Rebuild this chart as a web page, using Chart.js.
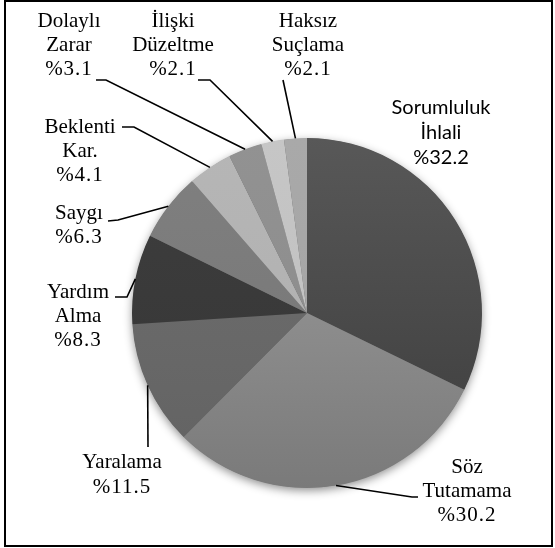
<!DOCTYPE html>
<html>
<head>
<meta charset="utf-8">
<script src="https://cdn.jsdelivr.net/npm/chart.js@4"></script>
<style>
  body { margin: 0; background: #fff; }
  #wrap { position: relative; width: 555px; height: 548px; }
</style>
</head>
<body>
<div id="wrap"><canvas id="pasta" width="555" height="548"></canvas></div>
<script>
// Veriler
const kategoriler = ['Sorumluluk İhlali', 'Söz Tutamama', 'Yaralama', 'Yardım Alma', 'Saygı',
                     'Beklenti Kar.', 'Dolaylı Zarar', 'İlişki Düzeltme', 'Haksız Suçlama'];
const yuzdeler = [32.2, 30.2, 11.5, 8.3, 6.3, 4.1, 3.1, 2.1, 2.1];
const etiketSatirlari = [
  ['Sorumluluk', 'İhlali'], ['Söz', 'Tutamama'], ['Yaralama'], ['Yardım', 'Alma'], ['Saygı'],
  ['Beklenti', 'Kar.'], ['Dolaylı', 'Zarar'], ['İlişki', 'Düzeltme'], ['Haksız', 'Suçlama']
];

// Renkler (üst, alt) - dilimlerde hafif dikey geçiş var
const renkUst = ['#585858', '#a0a0a0', '#707070', '#3e3e3e', '#808080', '#b6b6b6', '#929292', '#c6c6c6', '#a9a9a9'];
const renkAlt = ['#3c3c3c', '#7a7a7a', '#626262', '#353535', '#747474', '#aeaeae', '#8a8a8a', '#bebebe', '#a2a2a2'];

// Etiket yerleşimi: [x, ilk satır y, satır aralığı], kılavuz çizgisi kırılma noktaları
const etiketYeri = [
  [441, 108, 25], [467, 467, 24], [122, 462, 25], [78, 292, 24], [79, 213, 24],
  [80, 127, 24], [69, 21, 24], [173, 21, 24], [308, 21, 24]
];
const kilavuz = [
  null,
  [[412, 497], [418, 497]],
  [[148, 447]],
  [[127, 297], [115, 297]],
  [[118, 220], [108, 221]],
  [[134, 127], [122, 127]],
  [[106, 80], [96, 80]],
  [[210, 80], [198, 80]],
  [[283, 80]]
];

const golgeEklentisi = {
  id: 'golge',
  beforeDatasetsDraw(chart) {
    const arc = chart.getDatasetMeta(0).data[0];
    if (!arc) return;
    const ctx = chart.ctx;
    ctx.save();
    ctx.shadowColor = 'rgba(0,0,0,0.45)';
    ctx.shadowBlur = 10;
    ctx.shadowOffsetY = 3;
    ctx.fillStyle = '#666';
    ctx.beginPath();
    ctx.arc(arc.x, arc.y, arc.outerRadius - 0.5, 0, Math.PI * 2);
    ctx.fill();
    ctx.restore();
  }
};

const etiketEklentisi = {
  id: 'etiketler',
  afterDraw(chart) {
    const ctx = chart.ctx;
    const meta = chart.getDatasetMeta(0);
    ctx.save();
    // kılavuz çizgileri
    ctx.strokeStyle = '#000';
    ctx.lineWidth = 1.6;
    meta.data.forEach(function(arc, i) {
      if (!kilavuz[i]) return;
      const orta = (arc.startAngle + arc.endAngle) / 2;
      const px = arc.x + Math.cos(orta) * arc.outerRadius;
      const py = arc.y + Math.sin(orta) * arc.outerRadius;
      ctx.beginPath();
      ctx.moveTo(px, py);
      kilavuz[i].forEach(function(p) { ctx.lineTo(p[0], p[1]); });
      ctx.stroke();
    });
    // yazılar
    ctx.fillStyle = '#000';
    ctx.textAlign = 'center';
    ctx.textBaseline = 'middle';
    meta.data.forEach(function(arc, i) {
      const yer = etiketYeri[i];
      const satirlar = etiketSatirlari[i].concat(['%' + yuzdeler[i].toFixed(1)]);
      ctx.font = i === 0 ? '20px Lato' : '21px "Liberation Serif"';
      satirlar.forEach(function(s, k) {
        const sonSatir = k === satirlar.length - 1;
        ctx.letterSpacing = (sonSatir && i !== 0) ? '1px' : '0px';
        ctx.fillText(s, yer[0], yer[1] + k * yer[2]);
      });
    });
    ctx.letterSpacing = '0px';
    // çerçeve
    ctx.strokeStyle = '#000';
    ctx.lineWidth = 2;
    ctx.strokeRect(5, 1, 547, 545);
    ctx.restore();
  }
};

new Chart(document.getElementById('pasta'), {
  type: 'pie',
  data: {
    labels: kategoriler,
    datasets: [{
      data: yuzdeler,
      backgroundColor: function(c) {
        const area = c.chart.chartArea;
        const i = c.dataIndex;
        if (!area) return renkUst[i];
        const g = c.chart.ctx.createLinearGradient(0, area.top, 0, area.bottom);
        g.addColorStop(0, renkUst[i]);
        g.addColorStop(1, renkAlt[i]);
        return g;
      },
      borderWidth: 0,
      hoverBorderWidth: 0,
      hoverOffset: 0
    }]
  },
  options: {
    responsive: false,
    animation: false,
    layout: { padding: { left: 132, right: 73, top: 138, bottom: 60 } },
    plugins: {
      legend: { display: false },
      tooltip: { enabled: false }
    }
  },
  plugins: [golgeEklentisi, etiketEklentisi]
});
</script>
</body>
</html>
